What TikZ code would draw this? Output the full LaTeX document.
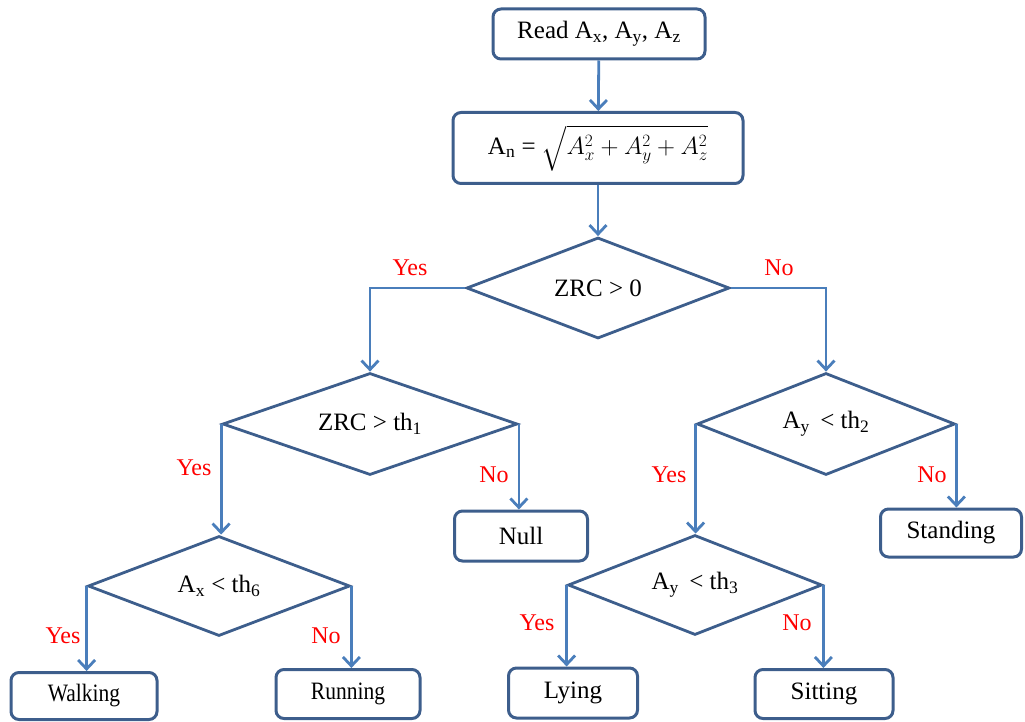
\documentclass[tikz,border=0pt]{standalone}
\usepackage{fontspec}
\setmainfont{Liberation Serif}
\usepackage{amsmath,graphicx}
\usepackage{tikz}
\usetikzlibrary{arrows.meta,calc,shapes.geometric}
\definecolor{boxblue}{HTML}{3D5E8C}
\definecolor{flowblue}{HTML}{4A7EBB}
\newcommand{\sub}[1]{\textsubscript{#1}}

\begin{document}
\begin{tikzpicture}[x=1pt,y=-1pt,
  font=\fontsize{25}{30}\selectfont,
  box/.style={draw=boxblue,line width=3pt,rounded corners=8pt,inner sep=0pt},
  test/.style={diamond,draw=boxblue,line width=2.8pt,inner sep=0pt,aspect=2.6},
  flow/.style={draw=flowblue,line width=2.8pt,-{Straight Barb[length=9pt,width=17pt]}},
  ans/.style={text=red,font=\fontsize{24}{28}\selectfont}]
\useasboundingbox (0,0) rectangle (1025,722);
% input and norm
\node[box,minimum width=212pt,minimum height=50pt] (read) at (599,34) {Read A\sub{x}, A\sub{y}, A\sub{z}};
\node[box,minimum width=290pt,minimum height=71pt] (norm) at (598,148) {A\sub{n} = {\fontsize{27}{30}\selectfont$\sqrt{A_x^2+A_y^2+A_z^2}$}};
% decisions
\node[test,minimum width=263pt,minimum height=101pt] (zrc) at (598,288) {ZRC > 0};
\node[test,minimum width=295pt,minimum height=102pt] (zrcth) at (370,424) {ZRC > th\sub{1}};
\node[test,minimum width=258pt,minimum height=102pt] (ayth) at (826,424) {A\sub{y}\, < th\sub{2}};
\node[test,minimum width=262pt,minimum height=100pt] (axth) at (219,586) {A\sub{x} < th\sub{6}};
\node[test,minimum width=254pt,minimum height=100pt] (aythb) at (695,585) {A\sub{y}\, < th\sub{3}};
% outcomes
\node[box,minimum width=133pt,minimum height=50pt] (null) at (521,536) {Null};
\node[box,minimum width=141pt,minimum height=48pt] (stand) at (951,533) {Standing};
\node[box,minimum width=146pt,minimum height=47pt] (walk) at (84,696) {\scalebox{0.86}[1]{Walking}};
\node[box,minimum width=144pt,minimum height=49pt] (run) at (348,694) {\raisebox{3pt}{\scalebox{0.86}[1]{Running}}};
\node[box,minimum width=129pt,minimum height=50pt] (lie) at (573,693) {Lying};
\node[box,minimum width=138pt,minimum height=49pt] (sit) at (824,694) {Sitting};
% connectors
\draw[flow] (read) -- (norm);
\draw[flow] (norm) -- (zrc);
\draw[flow] (zrc.west) -| (zrcth.north);
\draw[flow] (zrc.east) -| (ayth.north);
\draw[flow] (zrcth.west) -- (zrcth.west |- axth.north);
\draw[flow] (zrcth.east) -- (zrcth.east |- null.north);
\draw[flow] (ayth.west) -- (ayth.west |- aythb.north);
\draw[flow] (ayth.east) -- (ayth.east |- stand.north);
\draw[flow] (axth.west) -- (axth.west |- walk.north);
\draw[flow] (axth.east) -- (axth.east |- run.north);
\draw[flow] (aythb.west) -- (aythb.west |- lie.north);
\draw[flow] (aythb.east) -- (aythb.east |- sit.north);
% yes / no labels
\node[ans] (y1) at (410,268) {Yes};
\node[ans] (n1) at (779,268) {No};
\node[ans] (y2) at (194,468) {Yes};
\node[ans] (n2) at (494,475) {No};
\node[ans] (y3) at (669,475) {Yes};
\node[ans] (n3) at (932,475) {No};
\node[ans] (y4) at (63,636) {Yes};
\node[ans] (n4) at (326,636) {No};
\node[ans] (y5) at (537,623) {Yes};
\node[ans] (n5) at (797,623) {No};
\end{tikzpicture}
\end{document}
